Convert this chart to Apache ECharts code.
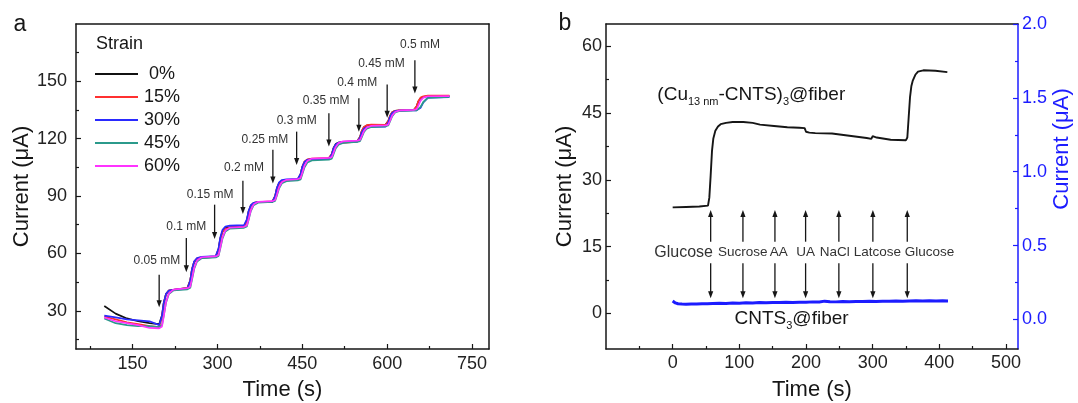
<!DOCTYPE html>
<html>
<head>
<meta charset="utf-8">
<style>
html, body { margin: 0; padding: 0; background: #fff; }
#chart { width: 1078px; height: 403px; }
</style>
<script src="https://cdn.jsdelivr.net/npm/echarts@6.0.0/dist/echarts.min.js"></script>
</head>
<body>
<div id="chart"></div>
<script>
// ---------- Panel a: step response at different strains ----------
const strainNames = ['0%', '15%', '30%', '45%', '60%'];

const timeA = [100, 120, 140, 160, 180, 197,
  202, 205, 209, 214, 222,
  247, 252, 255, 259, 264, 272,
  297, 302, 305, 309, 314, 322,
  347, 352, 355, 359, 364, 372,
  397, 402, 405, 409, 414, 422,
  442, 447, 450, 454, 459, 467,
  497, 502, 505, 509, 514, 522,
  547, 552, 555, 559, 564, 572,
  597, 602, 605, 609, 614, 622,
  647, 652, 655, 659, 664, 672,
  710];

const strain0 = [32.5, 28.5, 26, 24.5, 23.5, 23,
  27.6, 34.1, 38.7, 40.6, 41,
  42, 46, 51.6, 55.6, 57.2, 57.6,
  58.2, 62.2, 67.7, 71.6, 73.2, 73.7,
  74, 77.3, 81.8, 85, 86.4, 86.8,
  87, 89.9, 93.9, 96.8, 97.9, 98.2,
  98.6, 101.4, 105.2, 107.9, 109, 109.3,
  109.6, 111.8, 115, 117.2, 118, 118.3,
  118.8, 120.9, 123.9, 126, 126.9, 127.2,
  127.3, 129.2, 131.9, 133.8, 134.6, 134.8,
  135, 136.8, 139.4, 141.2, 141.9, 142.2,
  142.3];

const strain15 = [27, 25.5, 24, 23, 22, 21.5,
  26.5, 33.5, 38.5, 40.5, 41,
  41.8, 45.9, 51.7, 55.8, 57.5, 58,
  58.5, 62.3, 67.6, 71.3, 72.9, 73.4,
  73.8, 77.1, 81.7, 85, 86.3, 86.8,
  87.2, 90, 94, 96.8, 97.9, 98.3,
  98.7, 101.5, 105.4, 108.1, 109.2, 109.6,
  110, 112, 114.8, 116.8, 117.6, 117.8,
  118.5, 120.8, 123.9, 126.2, 127.1, 127.4,
  127.2, 129.2, 131.9, 133.8, 134.6, 134.8,
  135, 136.9, 139.6, 141.5, 142.2, 142.5,
  142.6];

const strain30 = [27.5, 26.5, 25.5, 25, 24.5, 22.5,
  27.2, 33.9, 38.7, 40.5, 41,
  41.5, 45.8, 51.7, 55.9, 57.6, 58.2,
  58.6, 62.7, 68.3, 72.4, 74, 74.5,
  74.8, 77.8, 82.1, 85.2, 86.4, 86.8,
  87, 90, 94.2, 97.2, 98.4, 98.8,
  99, 101.6, 105.3, 107.9, 109, 109.3,
  109.5, 111.7, 114.8, 117, 117.9, 118.1,
  118.4, 120.4, 123.2, 125.2, 126, 126.2,
  126.3, 128.4, 131.4, 133.5, 134.4, 134.7,
  134.8, 134.8, 135, 136.2, 139, 141.5,
  141.8];

const strain45 = [26, 23.5, 22.5, 22, 22, 21.5,
  22.5, 27.4, 34.2, 38.7, 40.6,
  41.2, 42, 46.2, 52, 55.8, 57.5,
  57.9, 58.7, 62.5, 67.9, 71.5, 73,
  73.4, 74.1, 77.4, 82.1, 85.2, 86.5,
  86.9, 87.5, 90.2, 94.1, 96.7, 97.8,
  98.2, 98.7, 101.4, 105.1, 107.5, 108.6,
  109, 109.5, 111.7, 114.9, 116.9, 117.8,
  118.3, 118.7, 120.7, 123.5, 125.3, 126.1,
  126.5, 126.9, 129, 131.8, 133.7, 134.5,
  134.8, 134.8, 135.1, 136.6, 139.2, 141.3,
  141.9];

const strain60 = [26.5, 24.5, 23.5, 22.5, 21, 20.8,
  21.8, 27, 34.3, 39, 41.1,
  41.8, 42.6, 46.8, 52.5, 56.3, 58,
  58.4, 59.2, 63, 68.4, 72, 73.5,
  73.9, 74.6, 77.9, 82.6, 85.7, 87,
  87.3, 87.9, 90.7, 94.7, 97.3, 98.5,
  98.9, 99.4, 102.2, 106, 108.5, 109.6,
  110, 110.4, 112.6, 115.7, 117.7, 118.6,
  119, 119.4, 121.3, 124.1, 125.9, 126.7,
  127, 127.4, 129.4, 132.2, 134, 134.8,
  135.1, 135.5, 137.3, 139.9, 141.5, 142.2,
  142.3];

// glucose additions: arrow from top value down to tip value, label above
const concLabels = ['0.05 mM', '0.1 mM', '0.15 mM', '0.2 mM', '0.25 mM', '0.3 mM', '0.35 mM', '0.4 mM', '0.45 mM', '0.5 mM'];
const concArrowX = [197, 245, 295, 345, 398, 440, 497, 550, 600, 649];
const concArrowTop = [48.9, 68, 85.5, 98, 114.2, 123.7, 133.3, 141.1, 148.4, 161];
const concArrowTip = [31.9, 50.2, 67.6, 80.6, 96.6, 106.3, 115.9, 123.7, 131, 143.6];
const concLabelX = [193, 245, 287, 347, 384, 440, 492, 547, 590, 658];
const concLabelY = [56.3, 74, 90.7, 105, 119.7, 129.3, 139.7, 149.3, 159.4, 169.3];

const ticksAx = [150, 300, 450, 600, 750];
const minorAx = [75, 225, 375, 525, 675];
const ticksAy = [30, 60, 90, 120, 150];
const minorAy = [15, 45, 75, 105, 135, 165];

// ---------- Panel b: selectivity test ----------
const timeCu = [0, 20, 40, 53, 55, 57, 59, 61, 64, 68, 72, 80, 90, 106, 120, 131, 152, 172, 190, 198,
  200, 205, 214, 239, 265, 291, 298, 300, 303, 306, 327, 350, 352, 354, 356, 358, 360, 364, 368, 376, 394, 412];
const currentCu = [23.8, 23.9, 24.0, 24.2, 26, 31, 36.5, 39.3, 41, 42, 42.5, 42.8, 43, 43, 42.8, 42.4, 42.1, 41.8, 41.7, 41.6,
  40.8, 40.6, 40.5, 40.4, 39.9, 39.4, 39.2, 39.8, 39.7, 39.5, 39.0, 38.9, 39.5, 44, 48.5, 51, 52.2, 53.6, 54.3, 54.6, 54.5, 54.2];

const timeCnts = [0, 4, 8, 14, 20, 28, 36, 44, 52, 60, 70, 80, 90, 100, 110, 120, 130, 140, 150, 160,
  170, 180, 190, 200, 210, 220, 228, 236, 245, 255, 265, 275, 285, 295, 305, 315, 325, 335, 345, 355,
  365, 375, 385, 395, 405, 413];
const currentCnts = [0.125, 0.112, 0.106, 0.104, 0.103, 0.105, 0.104, 0.107, 0.106, 0.108,
  0.109, 0.108, 0.111, 0.110, 0.113, 0.112, 0.114, 0.113, 0.115, 0.114,
  0.116, 0.115, 0.117, 0.116, 0.119, 0.118, 0.124, 0.120, 0.119, 0.121,
  0.120, 0.122, 0.121, 0.123, 0.122, 0.124, 0.123, 0.125, 0.124, 0.125,
  0.126, 0.125, 0.126, 0.125, 0.126, 0.125];

const sampleNames = ['Glucose', 'Sucrose', 'AA', 'UA', 'NaCl', 'Latcose', 'Glucose'];
const sampleLabelX = [16.5, 105, 159, 199.4, 243, 307, 385.3];
const sampleLabelY = 13.7;
const injectX = [57, 105.4, 153.4, 199.4, 249.3, 300.3, 351.9];
const upArrowFrom = 16.1, upArrowTo = 23.2;
const downArrowFrom = 11.25, downArrowTo = 3.4;
const cuLabelPos = [-23, 49];
const cntsLabelPos = [92.8, -1.3];

const ticksBx = [0, 100, 200, 300, 400, 500];
const minorBx = [-50, 50, 150, 250, 350, 450];
const ticksBy = [0, 15, 30, 45, 60];
const minorBy = [7.5, 22.5, 37.5, 52.5];
const ticksBr = [0, 0.5, 1.0, 1.5, 2.0];
const minorBr = [0.25, 0.75, 1.25, 1.75];

// ---------- drawing ----------
const FONT = '"Liberation Sans", Arial, Helvetica, sans-serif';
const INK = '#161616';
const BLUE = '#1c1cff';
const strainColors = ['#111111', '#ff3030', '#2a2aff', '#2b9a8b', '#ff33ff'];
const strainData = [strain0, strain15, strain30, strain45, strain60];

function pairs(xs, ys) { return xs.map((x, i) => [x, ys[i]]); }

function renderArrow(params, api) {
  const x = api.value(0);
  const from = api.coord([x, api.value(1)]);
  const to = api.coord([x, api.value(2)]);
  const dir = to[1] > from[1] ? 1 : -1;
  const headLen = 7, headHalf = 2.6;
  const baseY = to[1] - dir * headLen;
  return {
    type: 'group',
    children: [
      { type: 'line', shape: { x1: from[0], y1: from[1], x2: to[0], y2: baseY + dir }, style: { stroke: INK, lineWidth: 1.3 } },
      { type: 'polygon', shape: { points: [[to[0], to[1]], [to[0] - headHalf, baseY], [to[0] + headHalf, baseY]] }, style: { fill: INK } }
    ]
  };
}

function textRenderer(texts, extra) {
  return function (params, api) {
    const p = api.coord([api.value(0), api.value(1)]);
    return {
      type: 'text', x: p[0], y: p[1],
      style: Object.assign({
        text: texts[params.dataIndex], fontFamily: FONT, fill: '#333',
        align: 'center', verticalAlign: 'middle'
      }, extra(params.dataIndex))
    };
  };
}

function tickStyle(color) { return { color: color, width: 1.2 }; }

function frameAxis(grid, pos, min, max, color) {
  return {
    gridIndex: grid, type: 'value', position: pos, min: min, max: max,
    axisLine: { onZero: false, lineStyle: { color: color, width: 1.5 } },
    axisTick: { show: false }, axisLabel: { show: false }, splitLine: { show: false }
  };
}

function minorAxis(grid, pos, min, max, values, color) {
  return {
    gridIndex: grid, type: 'value', position: pos, min: min, max: max,
    axisLine: { show: false, onZero: false },
    axisTick: { inside: true, length: 3, customValues: values, lineStyle: tickStyle(color) },
    axisLabel: { show: false }, splitLine: { show: false }
  };
}

function mainAxis(grid, pos, min, max, values, color, margin, name, nameGap, fmt) {
  const ax = {
    gridIndex: grid, type: 'value', position: pos, min: min, max: max,
    axisLine: { onZero: false, lineStyle: { color: color, width: 1.5 } },
    axisTick: { inside: true, length: 5, customValues: values, lineStyle: tickStyle(color) },
    axisLabel: { customValues: values, fontSize: 18, color: color === INK ? '#222' : color, fontFamily: FONT, margin: margin },
    splitLine: { show: false }
  };
  if (fmt) ax.axisLabel.formatter = fmt;
  if (name) {
    ax.name = name;
    ax.nameLocation = 'middle';
    ax.nameGap = nameGap;
    ax.nameTextStyle = { fontSize: 22, color: INK, fontFamily: FONT };
  }
  return ax;
}

const gridA = { left: 76, top: 24, width: 413, height: 325, outerBoundsMode: 'none', containLabel: false };
const gridB = { left: 606, top: 24, width: 412, height: 325, outerBoundsMode: 'none', containLabel: false };

const series = [];
strainNames.forEach((name, i) => {
  series.push({
    name: name, type: 'line', xAxisIndex: 0, yAxisIndex: 0,
    data: pairs(timeA, strainData[i]), symbol: 'none', showSymbol: false,
    lineStyle: { color: strainColors[i], width: 1.7 }, itemStyle: { color: strainColors[i] },
    z: 3
  });
});
series.push({
  type: 'custom', xAxisIndex: 0, yAxisIndex: 0, renderItem: renderArrow, z: 5,
  data: concArrowX.map((x, i) => [x, concArrowTop[i], concArrowTip[i]])
});
series.push({
  type: 'custom', xAxisIndex: 0, yAxisIndex: 0, z: 5,
  renderItem: textRenderer(concLabels, () => ({ fontSize: 12 })),
  data: concLabelX.map((x, i) => [x, concLabelY[i]])
});

series.push({
  name: '(Cu-CNTS)3@fiber', type: 'line', xAxisIndex: 3, yAxisIndex: 3,
  data: pairs(timeCu, currentCu), symbol: 'none', showSymbol: false,
  lineStyle: { color: INK, width: 1.9 }, z: 3
});
series.push({
  name: 'CNTS3@fiber', type: 'line', xAxisIndex: 3, yAxisIndex: 4,
  data: pairs(timeCnts, currentCnts), symbol: 'none', showSymbol: false,
  lineStyle: { color: BLUE, width: 3 }, z: 3
});
series.push({
  type: 'custom', xAxisIndex: 3, yAxisIndex: 3, renderItem: renderArrow, z: 5,
  data: injectX.map(x => [x, upArrowFrom, upArrowTo]).concat(injectX.map(x => [x, downArrowFrom, downArrowTo]))
});
series.push({
  type: 'custom', xAxisIndex: 3, yAxisIndex: 3, z: 5,
  renderItem: textRenderer(sampleNames, i => ({ fontSize: i === 0 ? 16 : 13.5 })),
  data: sampleLabelX.map(x => [x, sampleLabelY])
});
series.push({
  type: 'custom', xAxisIndex: 3, yAxisIndex: 3, z: 5,
  renderItem: function (params, api) {
    const p = api.coord([api.value(0), api.value(1)]);
    const rich = {
      m: { fontSize: 19, fontFamily: FONT, fill: INK, lineHeight: 24 },
      s: { fontSize: 11, fontFamily: FONT, fill: INK, lineHeight: 13, verticalAlign: 'bottom' }
    };
    const text = params.dataIndex === 0
      ? '{m|(Cu}{s|13 nm}{m|-CNTS)}{s|3}{m|@fiber}'
      : '{m|CNTS}{s|3}{m|@fiber}';
    return { type: 'text', x: p[0], y: p[1], style: { text: text, rich: rich, align: 'left', verticalAlign: 'middle' } };
  },
  data: [cuLabelPos, cntsLabelPos]
});

const option = {
  animation: false,
  backgroundColor: '#fff',
  textStyle: { fontFamily: FONT },
  grid: [gridA, Object.assign({}, gridA), gridB, Object.assign({}, gridB)],
  xAxis: [
    mainAxis(0, 'bottom', 50, 780, ticksAx, INK, 6, 'Time (s)', 30),
    frameAxis(0, 'top', 50, 780, INK),
    minorAxis(1, 'bottom', 50, 780, minorAx, INK),
    mainAxis(2, 'bottom', -100, 518, ticksBx, INK, 5, 'Time (s)', 30),
    frameAxis(2, 'top', -100, 518, INK),
    minorAxis(3, 'bottom', -100, 518, minorBx, INK)
  ],
  yAxis: [
    mainAxis(0, 'left', 10, 180, ticksAy, INK, 9, 'Current (\u03bcA)', 42),
    frameAxis(0, 'right', 10, 180, INK),
    minorAxis(1, 'left', 10, 180, minorAy, INK),
    mainAxis(2, 'left', -8, 65, ticksBy, INK, 4, 'Current (\u03bcA)', 30),
    mainAxis(2, 'right', -0.2, 2.0, ticksBr, BLUE, 4, null, 0, v => v.toFixed(1)),
    minorAxis(3, 'left', -8, 65, minorBy, INK),
    minorAxis(3, 'right', -0.2, 2.0, minorBr, BLUE)
  ],
  legend: {
    data: strainNames, orient: 'vertical', left: 90, top: 60,
    icon: 'rect', itemWidth: 43, itemHeight: 2, itemGap: 5, selectedMode: false,
    formatter: '{c|{name}}',
    textStyle: {
      fontSize: 18, color: INK, fontFamily: FONT, lineHeight: 18,
      rich: { c: { width: 38, align: 'center', fontSize: 18, fontFamily: FONT, color: INK } }
    }
  },
  graphic: [
    { type: 'text', x: 20, y: 25, style: { text: 'a', fontSize: 23, fontFamily: FONT, fill: INK, align: 'center', verticalAlign: 'middle' } },
    { type: 'text', x: 565, y: 24, style: { text: 'b', fontSize: 23, fontFamily: FONT, fill: INK, align: 'center', verticalAlign: 'middle' } },
    { type: 'text', x: 96, y: 44, style: { text: 'Strain', fontSize: 18, fontFamily: FONT, fill: INK, align: 'left', verticalAlign: 'middle' } },
    { type: 'text', x: 1062, y: 149, rotation: Math.PI / 2, style: { text: 'Current (\u03bcA)', fontSize: 22, fontFamily: FONT, fill: BLUE, align: 'center', verticalAlign: 'middle' } }
  ],
  series: series
};

const chart = echarts.init(document.getElementById('chart'), null, { renderer: 'canvas' });
chart.setOption(option);
</script>
</body>
</html>
